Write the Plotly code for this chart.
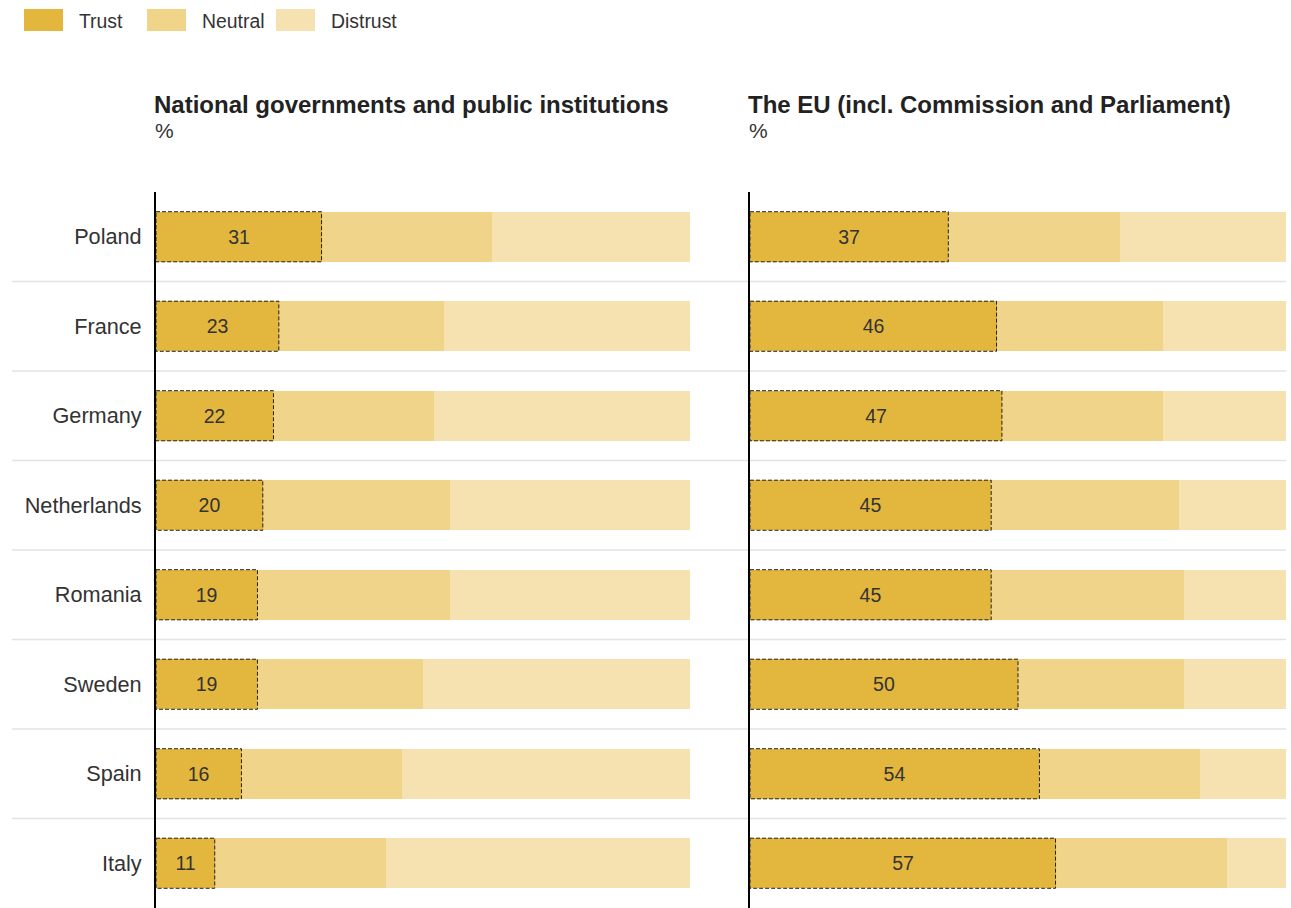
import plotly.graph_objects as go

countries = ["Poland", "France", "Germany", "Netherlands", "Romania", "Sweden", "Spain", "Italy"]

nat_trust = [31, 23, 22, 20, 19, 19, 16, 11]
nat_neutral = [32, 31, 30, 35, 36, 31, 30, 32]
nat_distrust = [37, 46, 48, 45, 45, 50, 54, 57]

eu_trust = [37, 46, 47, 45, 45, 50, 54, 57]
eu_neutral = [32, 31, 30, 35, 36, 31, 30, 32]
eu_distrust = [31, 23, 23, 20, 19, 19, 16, 11]

series_names = ["Trust", "Neutral", "Distrust"]
colors = ["#E3B63D", "#F0D48A", "#F5E2B0"]
panel_titles = ["National governments and public institutions",
                "The EU (incl. Commission and Parliament)"]

W, H = 1291, 908
T = 192
PH = H - T
FONT = "Liberation Sans, Arial, sans-serif"
TXT = "#333333"


def px_x(p):
    return p / W


def px_y(p):
    return (H - p) / PH


ypos = list(range(len(countries)))
BW = 0.56

fig = go.Figure()
panels = [
    ("x", "y", [nat_trust, nat_neutral, nat_distrust]),
    ("x2", "y2", [eu_trust, eu_neutral, eu_distrust]),
]
for xa, ya, vals in panels:
    for i, (name, col, v) in enumerate(zip(series_names, colors, vals)):
        fig.add_trace(go.Bar(
            x=v, y=ypos, orientation="h", name=name,
            marker=dict(color=col, line=dict(width=0)),
            width=BW, xaxis=xa, yaxis=ya, showlegend=False,
            text=[str(t) for t in v] if i == 0 else None,
            textposition="inside" if i == 0 else "none",
            insidetextanchor="middle",
            textfont=dict(family=FONT, size=19.5, color=TXT),
            hoverinfo="x+name",
        ))
    # dashed border around trust segment
    for yy, t in zip(ypos, vals[0]):
        fig.add_shape(type="rect", xref=xa, yref=ya,
                      x0=0, x1=t, y0=yy - BW / 2, y1=yy + BW / 2,
                      line=dict(color="#222222", width=1, dash="4px,2px"),
                      fillcolor="rgba(0,0,0,0)", layer="above")

# separators between rows
for k in range(len(countries) - 1):
    fig.add_shape(type="line", xref="paper", yref="y",
                  x0=px_x(12), x1=px_x(1286), y0=k + 0.5, y1=k + 0.5,
                  line=dict(color="#E3E3E3", width=1.5), layer="below")

ax_common = dict(range=[0, 100], showgrid=False, zeroline=False,
                 showticklabels=False, showline=False, fixedrange=True)
ay_common = dict(range=[len(countries) - 0.5, -0.5], showgrid=False, zeroline=False,
                 showline=True, linecolor="#000000", linewidth=2, ticks="")

fig.update_layout(
    width=W, height=H,
    margin=dict(l=0, r=0, t=T, b=0),
    paper_bgcolor="white", plot_bgcolor="white",
    barmode="stack", bargap=0,
    font=dict(family=FONT, color=TXT),
    xaxis=dict(domain=[px_x(156), px_x(690)], **ax_common),
    xaxis2=dict(domain=[px_x(750), px_x(1286)], **ax_common),
    yaxis=dict(anchor="x", tickvals=ypos, ticktext=countries, showticklabels=True,
               ticklabelstandoff=8, tickfont=dict(family=FONT, size=21.7, color=TXT),
               **ay_common),
    yaxis2=dict(anchor="x2", showticklabels=False, **ay_common),
    showlegend=False,
)

# panel titles
for title, xpx in zip(panel_titles, [152, 746]):
    fig.add_annotation(xref="paper", yref="paper", x=px_x(xpx), y=px_y(104),
                       xanchor="left", yanchor="middle", showarrow=False,
                       text="<b>" + title + "</b>",
                       font=dict(family=FONT, size=24, color="#222222"))
    fig.add_annotation(xref="paper", yref="paper", x=px_x(xpx + 1), y=px_y(131),
                       xanchor="left", yanchor="middle", showarrow=False,
                       text="%", font=dict(family=FONT, size=21, color=TXT))

# custom legend
leg_x = [24, 147, 276]
for name, col, lx in zip(series_names, colors, leg_x):
    fig.add_shape(type="rect", xref="paper", yref="paper",
                  x0=px_x(lx), x1=px_x(lx + 39), y0=px_y(31), y1=px_y(9),
                  fillcolor=col, line=dict(width=0))
    fig.add_annotation(xref="paper", yref="paper", x=px_x(lx + 53), y=px_y(21),
                       xanchor="left", yanchor="middle", showarrow=False,
                       text=name, font=dict(family=FONT, size=19.4, color=TXT))

fig.write_html("out.html")
